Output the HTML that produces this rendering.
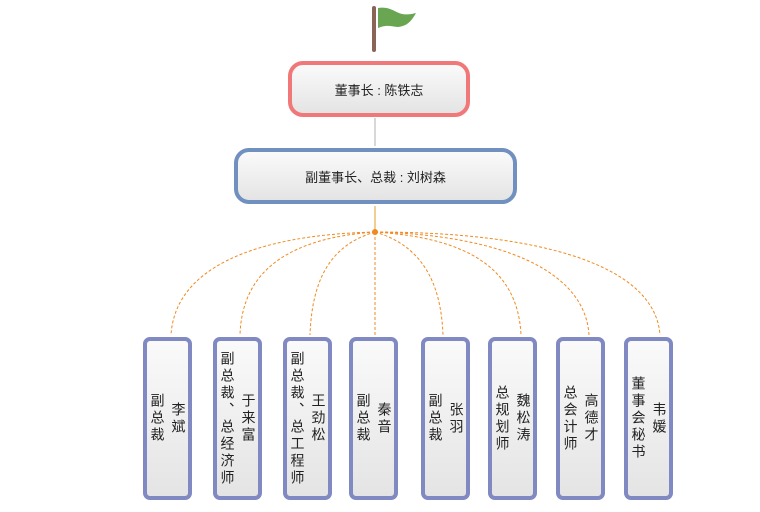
<!DOCTYPE html>
<html><head><meta charset="utf-8"><style>
body{margin:0;width:760px;height:512px;background:#fff;position:relative;overflow:hidden;font-family:"Liberation Sans","Noto Sans CJK SC",sans-serif;color:#222}
.b{position:absolute;box-sizing:border-box;background:linear-gradient(#fafafa,#e4e4e4);display:flex;align-items:center;justify-content:center;font-size:13px}
.v{border:4px solid #8089c2;border-radius:7px;top:337px;height:163px;width:49px;flex-direction:row-reverse;gap:6px}
.v span{writing-mode:vertical-rl;font-size:14px;line-height:15px;letter-spacing:3px}
</style></head><body>
<svg width="760" height="512" style="position:absolute;left:0;top:0">
<rect x="372" y="6" width="4" height="46" rx="2" fill="#8a6455"/>
<path d="M378 8 C390 6 394 12 402 14 C408 15 412 14 416 13 C412 20 408 26 398 27 C392 27 388 24 378 28 Z" fill="#6aa552"/>
<line x1="375" y1="118" x2="375" y2="146" stroke="#d8d8d8" stroke-width="2"/>
<line x1="375" y1="206" x2="375" y2="232" stroke="#f0d090" stroke-width="2"/>
<g fill="none" stroke="#f08a20" stroke-width="1" stroke-dasharray="3,2">
<path d="M375 232 C250 235 175 270 171 335"/>
<path d="M375 232 C290 238 242 270 240 335"/>
<path d="M375 232 C330 245 312 280 310 335"/>
<path d="M375 232 L375 335"/>
<path d="M375 232 C420 245 441 280 443 335"/>
<path d="M375 232 C470 238 518 270 521 335"/>
<path d="M375 232 C500 235 585 270 589 335"/>
<path d="M375 232 C540 232 655 265 660 335"/>
</g>
<circle cx="375" cy="232" r="3" fill="#f08a20"/>
</svg>
<div class="b" style="left:288px;top:61px;width:182px;height:56px;border:4px solid #f07878;border-radius:15px">董事长 : 陈铁志</div>
<div class="b" style="left:234px;top:148px;width:283px;height:56px;border:4px solid #7090c0;border-radius:15px">副董事长、总裁 : 刘树森</div>
<div class="b v" style="left:143px"><span>李斌</span><span>副总裁</span></div>
<div class="b v" style="left:213px"><span>于来富</span><span>副总裁、总经济师</span></div>
<div class="b v" style="left:283px"><span>王劲松</span><span>副总裁、总工程师</span></div>
<div class="b v" style="left:349px"><span>秦音</span><span>副总裁</span></div>
<div class="b v" style="left:421px"><span>张羽</span><span>副总裁</span></div>
<div class="b v" style="left:488px"><span>魏松涛</span><span>总规划师</span></div>
<div class="b v" style="left:556px"><span>高德才</span><span>总会计师</span></div>
<div class="b v" style="left:624px"><span>韦媛</span><span>董事会秘书</span></div>
</body></html>
